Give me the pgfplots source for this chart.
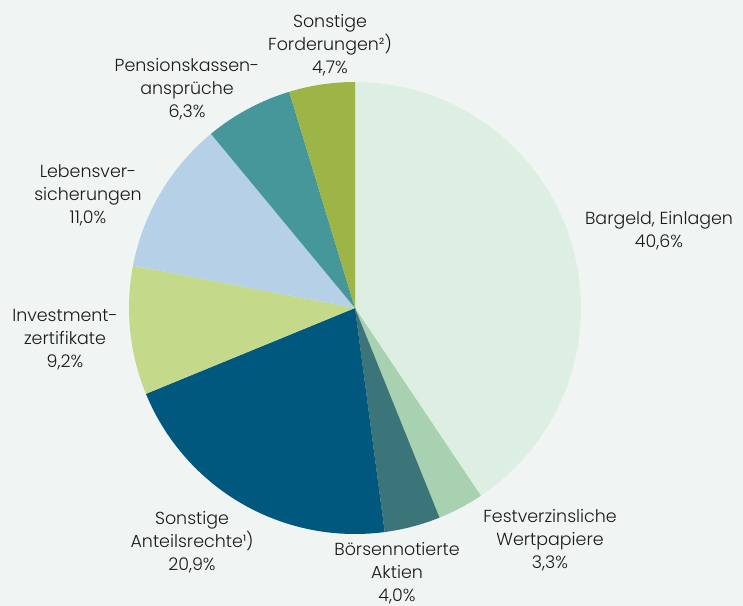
\documentclass[border=0pt]{standalone}
\usepackage{pgfplots}
\pgfplotsset{compat=1.18}
\usepackage{fontspec}
\setmainfont{Poppins Light}
\definecolor{bgc}{HTML}{F0F5F4}
\definecolor{cA}{HTML}{DDEEE2}
\definecolor{cB}{HTML}{A8D1B1}
\definecolor{cC}{HTML}{3B7579}
\definecolor{cD}{HTML}{00587F}
\definecolor{cE}{HTML}{C4D98A}
\definecolor{cF}{HTML}{B6D1E7}
\definecolor{cG}{HTML}{46979A}
\definecolor{cH}{HTML}{9DB546}
\definecolor{txt}{HTML}{1A1A1A}
\def\cum{0}
\newcommand{\slice}[2]{%
  \pgfmathsetmacro\sa{90-3.6*(\cum+#2)}%
  \pgfmathsetmacro\sb{90-3.6*\cum}%
  \edef\temp{\noexpand\addplot[fill=#1,draw=none,domain=\sa:\sb,samples=120] ({355+226*cos(x)},{298+226*sin(x)}) -- (axis cs:355,298) -- cycle;}%
  \temp
  \pgfmathsetmacro\newcum{\cum+#2}\global\let\cum\newcum}
\tikzset{lbl/.style={font=\fontsize{17.5}{23}\selectfont, text=txt, align=center, inner sep=0pt}}
\begin{document}
\begin{tikzpicture}
\useasboundingbox (0,0) rectangle (743bp,606bp);
\fill[bgc] (0,0) rectangle (743bp,606bp);
\begin{axis}[at={(0,0)}, anchor=south west, scale only axis, width=743bp, height=606bp,
  xmin=0, xmax=743, ymin=0, ymax=606, hide axis, clip=false]
\slice{cA}{40.6}
\slice{cB}{3.3}
\slice{cC}{4.0}
\slice{cD}{20.9}
\slice{cE}{9.2}
\slice{cF}{11.0}
\slice{cG}{6.3}
\slice{cH}{4.7}
\node[lbl] at (axis cs:659,375) {Bargeld, Einlagen\\40,6\%};
\node[lbl] at (axis cs:550,66) {Festverzinsliche\\Wertpapiere\\3,3\%};
\node[lbl] at (axis cs:397,33) {Börsennotierte\\Aktien\\4,0\%};
\node[lbl] at (axis cs:192,64) {Sonstige\\Anteilsrechte¹)\\20,9\%};
\node[lbl] at (axis cs:65,266) {Investment-\\zertifikate\\9,2\%};
\node[lbl] at (axis cs:88,411) {Lebensver-\\sicherungen\\11,0\%};
\node[lbl] at (axis cs:187,517) {Pensionskassen-\\ansprüche\\6,3\%};
\node[lbl] at (axis cs:330,561) {Sonstige\\Forderungen²)\\4,7\%};
\end{axis}
\end{tikzpicture}
\end{document}
